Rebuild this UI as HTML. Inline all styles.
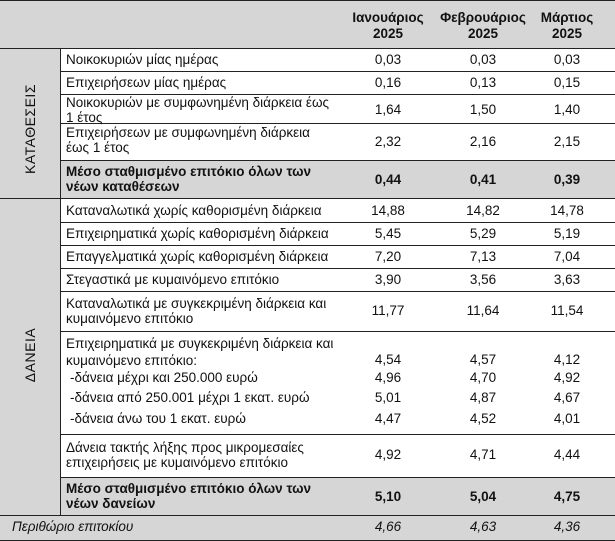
<!DOCTYPE html>
<html><head><meta charset="utf-8"><style>
*{margin:0;padding:0;box-sizing:border-box}
body{width:615px;height:541px;background:#fff;font-family:"Liberation Sans",Arial,sans-serif;font-size:13.5px;color:#111;position:relative;overflow:hidden}
.g{position:absolute;background:#d6d6d6}
.h{position:absolute;left:0;width:615px;height:1px;background:#222}
.t{position:absolute;left:66px;line-height:15px;white-space:nowrap}
.v{position:absolute;width:80px;text-align:center;line-height:15px}
.b{font-weight:bold}
.i{font-style:italic}
.side{position:absolute;transform:rotate(-90deg);transform-origin:center;font-size:14px;letter-spacing:0.5px;white-space:nowrap;text-align:center;width:120px;line-height:16px}
</style></head><body>
<div class="g" style="left:0;top:0;width:615px;height:48px"></div>
<div class="g" style="left:0;top:48px;width:60px;height:467px"></div>
<div class="g" style="left:60px;top:160px;width:555px;height:38px"></div>
<div class="g" style="left:60px;top:477px;width:555px;height:38px"></div>
<div class="g" style="left:0;top:515px;width:615px;height:26px"></div>
<div style="position:absolute;left:60px;top:48px;width:1px;height:467px;background:#222"></div>
<div class="h" style="top:0"></div>
<div class="h" style="top:48px"></div>
<div class="h" style="top:71px;left:60px"></div>
<div class="h" style="top:94px;left:60px"></div>
<div class="h" style="top:123px;left:60px"></div>
<div class="h" style="top:160px;left:60px"></div>
<div class="h" style="top:198px"></div>
<div class="h" style="top:222px;left:60px"></div>
<div class="h" style="top:245px;left:60px"></div>
<div class="h" style="top:268px;left:60px"></div>
<div class="h" style="top:291px;left:60px"></div>
<div class="h" style="top:331px;left:60px"></div>
<div class="h" style="top:434px;left:60px"></div>
<div class="h" style="top:477px;left:60px"></div>
<div class="h" style="top:515px"></div>
<div class="h" style="top:540px"></div>

<div class="v b" style="left:346px;top:10px;line-height:16px;width:84px">Ιανουάριος<br>2025</div>
<div class="v b" style="left:435px;top:10px;line-height:16px;width:96px">Φεβρουάριος<br>2025</div>
<div class="v b" style="left:527px;top:10px;line-height:16px">Μάρτιος<br>2025</div>

<div class="side" style="left:-30px;top:121px">ΚΑΤΑΘΕΣΕΙΣ</div>
<div class="side" style="left:-30px;top:347px">ΔΑΝΕΙΑ</div>

<div class="t" style="top:52px">Νοικοκυριών μίας ημέρας</div>
<div class="t" style="top:75px">Επιχειρήσεων μίας ημέρας</div>
<div class="t" style="top:95px">Νοικοκυριών με συμφωνημένη διάρκεια έως<br>1 έτος</div>
<div class="t" style="top:125px">Επιχειρήσεων με συμφωνημένη διάρκεια<br>έως 1 έτος</div>
<div class="t b" style="top:164px">Μέσο σταθμισμένο επιτόκιο όλων των<br>νέων καταθέσεων</div>
<div class="t" style="top:203px">Καταναλωτικά χωρίς καθορισμένη διάρκεια</div>
<div class="t" style="top:226px">Επιχειρηματικά χωρίς καθορισμένη διάρκεια</div>
<div class="t" style="top:249px">Επαγγελματικά χωρίς καθορισμένη διάρκεια</div>
<div class="t" style="top:272px">Στεγαστικά με κυμαινόμενο επιτόκιο</div>
<div class="t" style="top:296px">Καταναλωτικά με συγκεκριμένη διάρκεια και<br>κυμαινόμενο επιτόκιο</div>
<div class="t" style="top:335px;line-height:17px">Επιχειρηματικά με συγκεκριμένη διάρκεια και<br>κυμαινόμενο επιτόκιο:</div>
<div class="t" style="top:370px;left:70px">-δάνεια μέχρι και 250.000 ευρώ</div>
<div class="t" style="top:390px;left:70px">-δάνεια από 250.001 μέχρι 1 εκατ. ευρώ</div>
<div class="t" style="top:411px;left:70px">-δάνεια άνω του 1 εκατ. ευρώ</div>
<div class="t" style="top:440px">Δάνεια τακτής λήξης προς μικρομεσαίες<br>επιχειρήσεις με κυμαινόμενο επιτόκιο</div>
<div class="t b" style="top:481px">Μέσο σταθμισμένο επιτόκιο όλων των<br>νέων δανείων</div>
<div class="t i" style="top:519px;left:12px">Περιθώριο επιτοκίου</div>

<div class="v" style="left:348px;top:52px">0,03</div><div class="v" style="left:443px;top:52px">0,03</div><div class="v" style="left:527px;top:52px">0,03</div>
<div class="v" style="left:348px;top:75px">0,16</div><div class="v" style="left:443px;top:75px">0,13</div><div class="v" style="left:527px;top:75px">0,15</div>
<div class="v" style="left:348px;top:102px">1,64</div><div class="v" style="left:443px;top:102px">1,50</div><div class="v" style="left:527px;top:102px">1,40</div>
<div class="v" style="left:348px;top:134px">2,32</div><div class="v" style="left:443px;top:134px">2,16</div><div class="v" style="left:527px;top:134px">2,15</div>
<div class="v b" style="left:348px;top:172px">0,44</div><div class="v b" style="left:443px;top:172px">0,41</div><div class="v b" style="left:527px;top:172px">0,39</div>
<div class="v" style="left:348px;top:203px">14,88</div><div class="v" style="left:443px;top:203px">14,82</div><div class="v" style="left:527px;top:203px">14,78</div>
<div class="v" style="left:348px;top:226px">5,45</div><div class="v" style="left:443px;top:226px">5,29</div><div class="v" style="left:527px;top:226px">5,19</div>
<div class="v" style="left:348px;top:249px">7,20</div><div class="v" style="left:443px;top:249px">7,13</div><div class="v" style="left:527px;top:249px">7,04</div>
<div class="v" style="left:348px;top:272px">3,90</div><div class="v" style="left:443px;top:272px">3,56</div><div class="v" style="left:527px;top:272px">3,63</div>
<div class="v" style="left:348px;top:303px">11,77</div><div class="v" style="left:443px;top:303px">11,64</div><div class="v" style="left:527px;top:303px">11,54</div>
<div class="v" style="left:348px;top:352px">4,54</div><div class="v" style="left:443px;top:352px">4,57</div><div class="v" style="left:527px;top:352px">4,12</div>
<div class="v" style="left:348px;top:370px">4,96</div><div class="v" style="left:443px;top:370px">4,70</div><div class="v" style="left:527px;top:370px">4,92</div>
<div class="v" style="left:348px;top:390px">5,01</div><div class="v" style="left:443px;top:390px">4,87</div><div class="v" style="left:527px;top:390px">4,67</div>
<div class="v" style="left:348px;top:411px">4,47</div><div class="v" style="left:443px;top:411px">4,52</div><div class="v" style="left:527px;top:411px">4,01</div>
<div class="v" style="left:348px;top:447px">4,92</div><div class="v" style="left:443px;top:447px">4,71</div><div class="v" style="left:527px;top:447px">4,44</div>
<div class="v b" style="left:348px;top:489px">5,10</div><div class="v b" style="left:443px;top:489px">5,04</div><div class="v b" style="left:527px;top:489px">4,75</div>
<div class="v i" style="left:348px;top:519px">4,66</div><div class="v i" style="left:443px;top:519px">4,63</div><div class="v i" style="left:527px;top:519px">4,36</div>
</body></html>
